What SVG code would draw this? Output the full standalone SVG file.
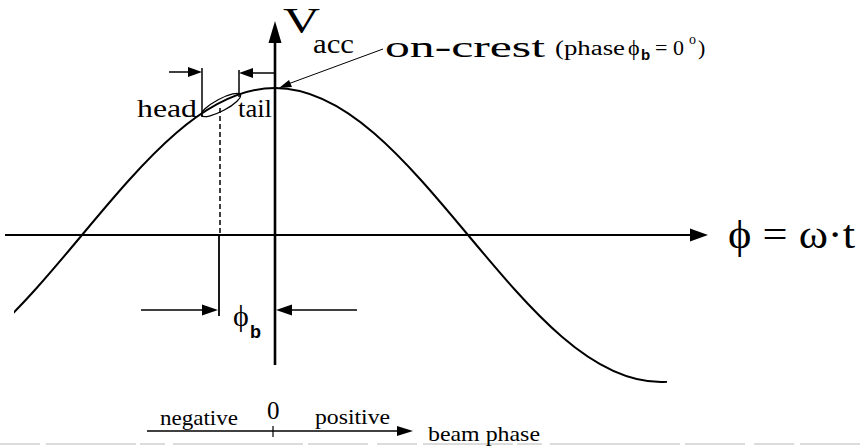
<svg xmlns="http://www.w3.org/2000/svg" width="860" height="446" viewBox="0 0 860 446">
<style>
.ln{stroke:#000;fill:none}
.t{font-family:"Liberation Serif","Times New Roman",serif;fill:#000}
.s{font-family:"Liberation Sans",Arial,sans-serif;fill:#000}
.ah{fill:#000;stroke:none}
</style>
<defs>
<clipPath id="cc"><rect x="14" y="0" width="653" height="446"/></clipPath>
</defs>
<rect width="860" height="446" fill="#fff"/>
<g id="curve">
<path class="ln" stroke-width="2" clip-path="url(#cc)" d="M -111 382 C -41.15 382, 19.06 310.31, 82 235 C 144.94 159.69, 205.15 88, 275 88 C 344.85 88, 405.06 159.69, 468 235 C 530.94 310.31, 591.15 382, 661 382 C 730.85 382, 791.06 310.31, 854 235"/>
</g>
<g id="connectors">
<!-- horizontal axis -->
<line class="ln" stroke-width="2.2" x1="5" y1="235" x2="692" y2="235"/>
<polygon class="ah" points="708,235 690,228.5 690,241.5"/>
<!-- vertical axis -->
<line class="ln" stroke-width="2.6" x1="275" y1="40" x2="275" y2="365"/>
<polygon class="ah" points="275,21 268.5,43 281.5,43"/>
<!-- bunch ticks -->
<line class="ln" stroke-width="1.5" x1="202" y1="68" x2="202" y2="117"/>
<line class="ln" stroke-width="1.5" x1="239" y1="70" x2="239" y2="97"/>
<line class="ln" stroke-width="1.5" x1="169" y1="72" x2="190" y2="72"/>
<polygon class="ah" points="202,72 188,67 188,77"/>
<line class="ln" stroke-width="1.5" x1="275" y1="73" x2="251" y2="73"/>
<polygon class="ah" points="239,73 253,68 253,78"/>
<ellipse class="ln" stroke-width="1.3" cx="221" cy="105" rx="22" ry="6" transform="rotate(-28 221 105)"/>
<line class="ln" stroke-width="1.5" stroke-dasharray="5,3" x1="220" y1="108" x2="220" y2="235"/>
<line class="ln" stroke-width="1.8" x1="219" y1="235" x2="219" y2="316"/>
<!-- phase dimension arrows -->
<line class="ln" stroke-width="1.5" x1="141" y1="310" x2="204" y2="310"/>
<polygon class="ah" points="218,310 202,304.5 202,315.5"/>
<line class="ln" stroke-width="1.5" x1="357" y1="310" x2="290" y2="310"/>
<polygon class="ah" points="276,310 292,304.5 292,315.5"/>
<!-- crest pointer -->
<line class="ln" stroke-width="1" x1="383" y1="49" x2="288" y2="84"/>
<polygon class="ah" points="279,88 289,80 292,87"/>
<!-- beam phase axis -->
<line class="ln" stroke-width="1.5" x1="147" y1="431" x2="399" y2="431"/>
<polygon class="ah" points="413,431 397,426 397,436"/>
<line class="ln" stroke-width="1.2" x1="273" y1="426" x2="273" y2="437"/>
<!-- faint page edge -->
<line stroke="#b8b8b8" stroke-width="1" stroke-dasharray="40,6,90,4,25,8,130,5,60,9" x1="0" y1="444" x2="860" y2="444"/>
</g>
<g id="label-vacc">
<text class="t" x="283" y="33" font-size="36" textLength="37" lengthAdjust="spacingAndGlyphs">V</text>
<text class="t" x="313" y="53" font-size="28" textLength="41" lengthAdjust="spacingAndGlyphs">acc</text>
</g>
<g id="label-oncrest">
<text class="t" x="385" y="57" font-size="30" textLength="160" lengthAdjust="spacingAndGlyphs">on-crest</text>
<text class="t" x="555" y="55" font-size="20" textLength="70" lengthAdjust="spacingAndGlyphs">(phase</text>
<text class="t" x="628" y="55" font-size="22">ϕ</text>
<text class="s" x="641" y="60" font-size="15" font-weight="bold">b</text>
<text class="t" x="655" y="55" font-size="22">= 0</text>
<text class="t" x="689" y="44" font-size="14">o</text>
<text class="t" x="698" y="55" font-size="22">)</text>
</g>
<g id="label-head">
<text class="t" x="137" y="117" font-size="25" textLength="60" lengthAdjust="spacingAndGlyphs">head</text>
</g>
<g id="label-tail">
<text class="t" x="238" y="117" font-size="25" textLength="34" lengthAdjust="spacingAndGlyphs">tail</text>
</g>
<g id="label-phi">
<text class="t" x="728" y="248" font-size="40" textLength="127" lengthAdjust="spacingAndGlyphs">ϕ = ω·t</text>
</g>
<g id="label-phib">
<text class="t" x="233" y="326" font-size="30">ϕ</text>
<text class="s" x="250" y="338" font-size="18" font-weight="bold">b</text>
</g>
<g id="label-beamphase">
<text class="t" x="160" y="425" font-size="21" textLength="78" lengthAdjust="spacingAndGlyphs">negative</text>
<text class="t" x="267" y="419" font-size="25">0</text>
<text class="t" x="315" y="424" font-size="21" textLength="75" lengthAdjust="spacingAndGlyphs">positive</text>
<text class="t" x="428" y="441" font-size="21" textLength="112" lengthAdjust="spacingAndGlyphs">beam phase</text>
</g>
</svg>
